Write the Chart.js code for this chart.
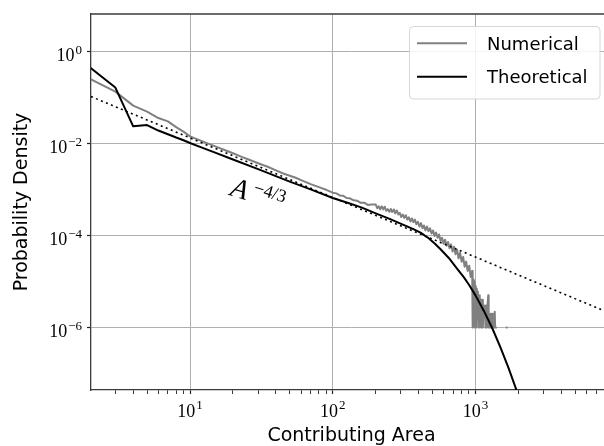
<!DOCTYPE html>
<html>
<head>
<meta charset="utf-8">
<script src="https://cdn.jsdelivr.net/npm/chart.js@4.4.1/dist/chart.umd.min.js"></script>
<style>
  html, body { margin: 0; padding: 0; background: #fff; overflow: hidden; }
  #wrap { width: 604px; height: 446px; overflow: hidden; position: relative; }
  #wrap canvas { position: absolute; left: 0; top: 0; }
</style>
</head>
<body>
<div id="wrap"><canvas id="c" width="620" height="460"></canvas></div>
<script>
// Contributing-area distribution: simulated histogram, analytic curve and the A^(-4/3) power law.

const numericalArea = [
  2, 3, 4, 5, 6, 7, 8, 9, 10,
  12, 14, 16, 18, 20, 23, 26, 30, 35, 40, 45, 50, 55, 60, 70, 80, 90, 100,
  106, 112, 118, 125, 132, 140, 148, 157, 166, 176, 186,
  200, 205, 210, 215, 220, 226, 231, 237, 243, 249,
  255, 261, 268, 274, 281, 288, 295, 302, 310, 317,
  325, 333, 341, 350, 358, 367, 376, 385, 395, 405,
  415, 425, 435, 446, 457, 468, 480, 492, 504, 516,
  529, 542, 555, 569, 583, 597, 612, 627, 642, 658,
  674, 691, 708, 725, 743, 761, 780, 799, 819, 839,
  860, 881, 903, 925, 948,
  955, 962, 970, 978, 986, 994, 1003, 1012, 1021, 1030,
  1040, 1050, 1060, 1070, 1080, 1091, 1102, 1114, 1126, 1138,
  1150, 1162, 1175, 1188, 1201, 1214, 1228, 1236, 1250, 1264,
  1278, 1292, 1306, 1320, 1335, 1350, 1364, 1372, 1390, 1410,
  1520, 1630, 1675
];
const numericalDensity = [
  0.25, 0.133, 0.066, 0.049, 0.0355, 0.030, 0.0226, 0.018, 0.0142,
  0.0113, 0.0094, 0.0080, 0.0069, 0.0061, 0.0051, 0.0044, 0.0037, 0.0031, 0.0026, 0.00222, 0.00198, 0.00179, 0.00159, 0.00130, 0.00112, 0.00098, 0.00085,
  8.2e-4, 7.4e-4, 7.3e-4, 6.5e-4, 6.4e-4, 5.8e-4, 5.7e-4, 5.1e-4, 5.15e-4, 4.6e-4, 4.7e-4,
  4.68e-4, 3.90e-4, 4.30e-4, 3.67e-4, 4.29e-4, 3.69e-4, 4.21e-4, 3.43e-4, 3.72e-4, 3.26e-4,
  3.76e-4, 3.24e-4, 3.67e-4, 3.02e-4, 3.49e-4, 2.86e-4, 3.09e-4, 2.51e-4, 2.83e-4, 2.40e-4,
  2.75e-4, 2.21e-4, 2.47e-4, 2.01e-4, 2.34e-4, 1.94e-4, 2.21e-4, 1.76e-4, 1.97e-4, 1.56e-4,
  1.85e-4, 1.44e-4, 1.65e-4, 1.29e-4, 1.57e-4, 1.24e-4, 1.43e-4, 1.10e-4, 1.28e-4, 9.7e-5,
  1.16e-4, 8.9e-5, 1.05e-4, 7.7e-5, 8.9e-5, 6.6e-5, 8.1e-5, 6.0e-5, 7.2e-5, 5.3e-5,
  6.4e-5, 4.5e-5, 5.7e-5, 3.9e-5, 4.9e-5, 3.2e-5, 4.2e-5, 2.7e-5, 3.4e-5, 2.1e-5,
  2.7e-5, 1.7e-5, 2.2e-5, 1.26e-5, 1.7e-5,
  1e-6, 1.1e-5, 4e-6, 1.0e-5, 1e-6, 8e-6, 3e-6, 7e-6, 1e-6, 6e-6,
  2e-6, 5e-6, 1e-6, 5e-6, 2e-6, 4e-6, 1e-6, 4e-6, 1e-6, 3e-6,
  2e-6, 3e-6, 1e-6, 3e-6, 1e-6, 3e-6, 5e-6, 1e-6, 2e-6, 1e-6,
  2e-6, 1e-6, 2e-6, 1e-6, 1e-6, 1e-6, 2.2e-6, 1e-6, 1e-6, 1e-6,
  null, 1e-6, 1e-6
];

const theoreticalArea = [
  2, 3, 4, 5, 6, 7, 8, 9, 10, 12, 15, 20, 30, 50, 70, 100, 130, 160, 200, 250,
  331, 370, 412, 470, 520, 569, 650, 742, 830, 900, 1000, 1150, 1318, 1500, 1700, 1945, 2200
];
const theoreticalDensity = [
  0.44, 0.163, 0.0234, 0.025, 0.019, 0.0158, 0.0134, 0.0117, 0.0102, 0.0082, 0.0063, 0.00447, 0.00275, 0.00148, 0.00100, 6.5e-4, 5.0e-4, 4.03e-4, 3.02e-4, 2.29e-4,
  1.58e-4, 1.35e-4, 1.15e-4, 8.7e-5, 6.6e-5, 5.0e-5, 3.24e-5, 1.91e-5, 1.23e-5, 8.5e-6, 5.0e-6, 2.24e-6, 9.3e-7, 3.6e-7, 1.35e-7, 4.2e-8, 1.29e-8
];

const powerLawArea = [2.025, 9040];
const powerLawDensity = [0.104, 1.96e-6];

const legendLabels = ['Numerical', 'Theoretical'];

const xMajorTicks = [10, 100, 1000];
const xTickExponents = ['1', '2', '3'];
const xMinorTicks = [3, 4, 5, 6, 7, 8, 9, 20, 30, 40, 50, 60, 70, 80, 90,
                     200, 300, 400, 500, 600, 700, 800, 900, 2000, 3000, 4000, 5000, 6000, 7000, 8000];
const yMajorTicks = [1, 1e-2, 1e-4, 1e-6];
const yTickExponents = ['0', '\u22122', '\u22124', '\u22126'];

const xTitle = 'Contributing Area';
const yTitle = 'Probability Density';
const powerLawBase = 'A';
const powerLawExponent = '\u22124/3';

// ---- drawing ----
const W = 620, H = 460;
const PLOT = { left: 91, top: 14, right: 612, bottom: 390 };
const gridColor = '#b0b0b0';
const spineColor = '#3a3a3a';
const sansFont = '"DejaVu Sans", sans-serif';
const serifFont = '"Liberation Serif", "DejaVu Serif", serif';

const zip = (xs, ys) => xs.map((x, i) => ({ x, y: ys[i] }));

const labels = {
  id: 'labels',
  afterDraw(chart) {
    const { ctx, chartArea: a, scales } = chart;
    const xs = scales.x, ys = scales.y;
    ctx.save();

    // top spine
    ctx.strokeStyle = spineColor;
    ctx.lineWidth = 1.3;
    ctx.beginPath();
    ctx.moveTo(a.left - 0.65, a.top);
    ctx.lineTo(a.right, a.top);
    ctx.stroke();

    ctx.fillStyle = '#000';
    ctx.textBaseline = 'alphabetic';
    const baseFont = '18px ' + serifFont;
    const supFont = '13px ' + serifFont;

    // y tick labels: 10^n, right aligned against the axis
    yMajorTicks.forEach((v, i) => {
      const py = ys.getPixelForValue(v);
      const right = 82;
      ctx.font = supFont;
      const we = ctx.measureText(yTickExponents[i]).width;
      ctx.textAlign = 'left';
      ctx.fillText(yTickExponents[i], right - we, py + 2.6);
      ctx.font = baseFont;
      const wb = ctx.measureText('10').width;
      ctx.fillText('10', right - we - 1 - wb, py + 9.6);
    });

    // x tick labels
    xMajorTicks.forEach((v, i) => {
      const px = xs.getPixelForValue(v);
      ctx.font = baseFont;
      const wb = ctx.measureText('10').width;
      ctx.font = supFont;
      const we = ctx.measureText(xTickExponents[i]).width;
      const start = px - (wb + 1 + we) / 2;
      ctx.textAlign = 'left';
      ctx.font = baseFont;
      ctx.fillText('10', start, 416.5);
      ctx.font = supFont;
      ctx.fillText(xTickExponents[i], start + wb + 1, 408.5);
    });

    // axis titles
    ctx.font = '19px ' + sansFont;
    ctx.textAlign = 'center';
    ctx.fillText(xTitle, (a.left + a.right) / 2, 441);
    ctx.save();
    ctx.translate(27.3, (a.top + a.bottom) / 2);
    ctx.rotate(-Math.PI / 2);
    ctx.fillText(yTitle, 0, 0);
    ctx.restore();

    // power-law annotation, tilted along the line
    ctx.save();
    ctx.translate(229, 195);
    ctx.rotate(17 * Math.PI / 180);
    ctx.textAlign = 'left';
    ctx.font = 'italic 28px ' + serifFont;
    ctx.fillText(powerLawBase, 0, 0);
    ctx.font = '18px ' + serifFont;
    ctx.fillText(powerLawExponent, 22, -9);
    ctx.restore();

    // legend
    const box = { x: 409.5, y: 26.5, w: 190.5, h: 72.5 };
    ctx.beginPath();
    ctx.roundRect(box.x, box.y, box.w, box.h, 4);
    ctx.fillStyle = 'rgba(255,255,255,0.85)';
    ctx.fill();
    ctx.strokeStyle = '#d6d6d6';
    ctx.lineWidth = 1;
    ctx.stroke();
    const rowY = [43.3, 76.7];
    legendLabels.forEach((name, i) => {
      const d = chart.data.datasets.find(ds => ds.label === name);
      ctx.strokeStyle = d.borderColor;
      ctx.lineWidth = d.borderWidth;
      ctx.beginPath();
      ctx.moveTo(417, rowY[i]);
      ctx.lineTo(467, rowY[i]);
      ctx.stroke();
      ctx.fillStyle = '#000';
      ctx.font = '18px ' + sansFont;
      ctx.textAlign = 'left';
      ctx.fillText(name, 487, rowY[i] + 6.6);
    });

    ctx.restore();
  }
};

new Chart(document.getElementById('c'), {
  type: 'scatter',
  data: {
    datasets: [
      {
        label: 'A^-4/3',
        data: zip(powerLawArea, powerLawDensity),
        showLine: true,
        borderColor: '#000',
        borderWidth: 1.6,
        borderDash: [2, 3.4],
        pointRadius: 0,
        order: 0,
        clip: 0
      },
      {
        label: 'Theoretical',
        data: zip(theoreticalArea, theoreticalDensity),
        showLine: true,
        borderColor: '#000000',
        borderWidth: 2,
        borderJoinStyle: 'round',
        pointRadius: 0,
        order: 1,
        clip: 0
      },
      {
        label: 'Numerical',
        data: zip(numericalArea, numericalDensity),
        showLine: true,
        spanGaps: false,
        borderColor: '#808080',
        borderWidth: 2,
        borderJoinStyle: 'round',
        pointRadius: 0,
        order: 2,
        clip: 0
      }
    ]
  },
  options: {
    responsive: false,
    animation: false,
    devicePixelRatio: 1,
    events: [],
    layout: { padding: { left: 0, top: PLOT.top, right: W - PLOT.right, bottom: 0 } },
    plugins: { legend: { display: false }, tooltip: { enabled: false } },
    scales: {
      x: {
        type: 'logarithmic',
        min: 2.025,
        max: 9040,
        afterBuildTicks: s => {
          s.ticks = xMinorTicks.concat(xMajorTicks).sort((p, q) => p - q).map(v => ({ value: v }));
        },
        afterFit: s => { s.height = H - PLOT.bottom; },
        ticks: { display: false },
        grid: {
          color: c => (c.tick && xMajorTicks.includes(c.tick.value)) ? gridColor : 'rgba(0,0,0,0)',
          lineWidth: 1,
          drawTicks: true,
          tickLength: 4,
          tickColor: '#222',
          tickWidth: c => (c.tick && xMajorTicks.includes(c.tick.value)) ? 1.2 : 0.9
        },
        border: { display: true, color: spineColor, width: 1.3 }
      },
      y: {
        type: 'logarithmic',
        min: 4.4e-8,
        max: 6.45,
        afterBuildTicks: s => { s.ticks = yMajorTicks.map(v => ({ value: v })); },
        afterFit: s => { s.width = PLOT.left; },
        ticks: { display: false },
        grid: {
          color: gridColor,
          lineWidth: 1,
          drawTicks: true,
          tickLength: 4,
          tickColor: '#222',
          tickWidth: 1.2
        },
        border: { display: true, color: spineColor, width: 1.3 }
      }
    }
  },
  plugins: [labels]
});
</script>
</body>
</html>
